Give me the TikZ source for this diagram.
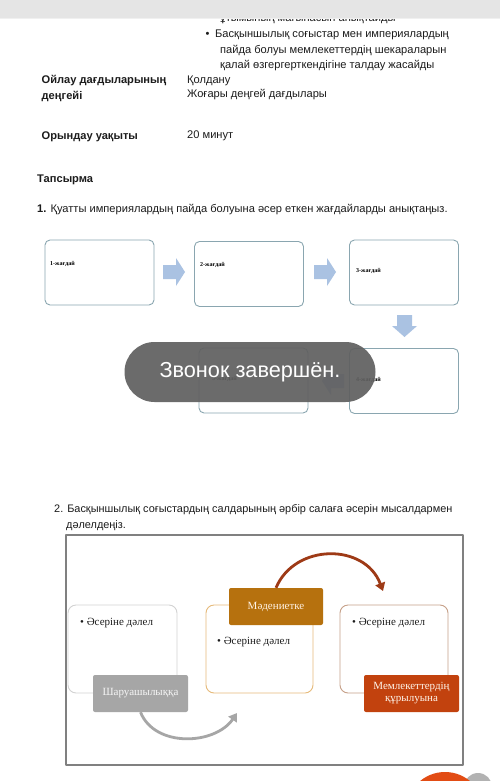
\documentclass[tikz,border=0pt]{standalone}
\usepackage{fontspec}
\setmainfont{Liberation Sans}
\newfontfamily\boxfont{Liberation Serif}
\usetikzlibrary{arrows.meta}

\definecolor{barGray}{RGB}{229,229,229}
\definecolor{inkBlack}{RGB}{28,28,28}
\definecolor{caseEdge}{RGB}{138,166,176}
\definecolor{caseArrow}{RGB}{170,194,226}
\definecolor{toastGray}{RGB}{96,96,96}
\definecolor{frameGray}{RGB}{128,128,128}
\definecolor{farmGray}{RGB}{166,166,166}
\definecolor{cultOrange}{RGB}{182,113,14}
\definecolor{cultEdge}{RGB}{230,186,122}
\definecolor{stateRed}{RGB}{194,66,14}
\definecolor{stateEdge}{RGB}{198,160,136}
\definecolor{arcBrown}{RGB}{158,58,22}
\definecolor{dotOrange}{RGB}{226,76,20}

\begin{document}
\begin{tikzpicture}[x=1pt,y=-1pt,line join=round,
  body/.style={anchor=base west,inner sep=0pt,text=inkBlack,font=\fontsize{11.1}{13}\selectfont},
  bodybold/.style={body,font=\fontsize{11.1}{13}\selectfont\bfseries},
  casebox/.style={draw=caseEdge,line width=0.9pt,rounded corners=5pt,fill=white,inner sep=0pt},
  caselabel/.style={anchor=base west,inner sep=0pt,font=\boxfont\fontsize{6}{7}\selectfont\bfseries},
  proofbox/.style={line width=0.9pt,rounded corners=8pt,fill=white,inner sep=0pt,minimum height=88pt},
  sphere/.style={inner sep=0pt,minimum height=37pt,minimum width=95pt,text=white,align=center,
    rounded corners=2pt,font=\boxfont\fontsize{11}{12}\selectfont},
  proof/.style={anchor=base west,inner sep=0pt,text=inkBlack,font=\boxfont\fontsize{11}{12}\selectfont}]

  \clip (0,0) rectangle (500,781);
  \fill[white] (0,0) rectangle (500,781);

  % ---- reference values (pixels, measured down from the top) ----
  \def\leftX{41.5}      % left column of the table
  \def\rightX{187}      % right column of the table
  \def\caseW{109}       % case box width
  \def\caseH{65}        % case box height

  % ---- upper table text ----
  \node[body] (goalA) at (220,22) {ұтымының мағынасын анықтайды};
  \fill[barGray] (0,0) rectangle (500,18);
  \fill[gray!12] (0,18) rectangle (500,19.2);

  \node[body,anchor=base] (goalDot) at (207.5,37.7) {\textbullet};
  \node[body] (goalB1) at (215,37.7) {Басқыншылық соғыстар мен империялардың};
  \node[body] (goalB2) at (220,53.3) {пайда болуы мемлекеттердің шекараларын};
  \node[body] (goalB3) at (220,68.3) {қалай өзгергерткендігіне талдау жасайды};

  \node[bodybold] (thinkA) at (\leftX,83.3) {Ойлау дағдыларының};
  \node[bodybold] (thinkB) at (\leftX,100) {деңгейі};
  \node[body] (levelA) at (\rightX,83.3) {Қолдану};
  \node[body] (levelB) at (\rightX,97.7) {Жоғары деңгей дағдылары};

  \node[bodybold] (timeLbl) at (\leftX,139.3) {Орындау уақыты};
  \node[body] (timeVal) at (\rightX,138.3) {20 минут};

  % ---- task 1 ----
  \node[bodybold] (taskLbl) at (37,182) {Тапсырма};
  \node[body] (taskOne) at (37,212.5) {\textbf{1.} Қуатты империялардың пайда болуына әсер еткен жағдайларды анықтаңыз.};

  % case boxes
  \node[casebox,minimum width=\caseW pt,minimum height=\caseH pt] (case1) at (99.5,272.5) {};
  \node[casebox,minimum width=\caseW pt,minimum height=\caseH pt] (case2) at (249,274) {};
  \node[casebox,minimum width=\caseW pt,minimum height=\caseH pt] (case3) at (404,272.5) {};
  \node[casebox,minimum width=\caseW pt,minimum height=\caseH pt] (case5) at (253.5,380.5) {};
  \node[casebox,minimum width=\caseW pt,minimum height=\caseH pt] (case4) at (404,381) {};

  \node[caselabel] (case1lbl) at (50,265) {1-жағдай};
  \node[caselabel] (case2lbl) at (200,266) {2-жағдай};
  \node[caselabel] (case3lbl) at (356,272) {3-жағдай};
  \node[caselabel] (case4lbl) at (356,381) {4-жағдай};
  \node[caselabel] (case5lbl) at (212,380) {5-жағдай};

  % block arrows between the cases
  \foreach \ax in {163,314} {
    \fill[caseArrow] (\ax,265) -- ++(13,0) -- ++(0,-7) -- ++(9,14) -- ++(-9,14) -- ++(0,-7) -- ++(-13,0) -- cycle;
  }
  \fill[caseArrow] (397,315) -- ++(15,0) -- ++(0,11) -- ++(5,0) -- ++(-12.5,11) -- ++(-12.5,-11) -- ++(5,0) -- cycle;
  \fill[caseArrow] (344,374) -- ++(-13,0) -- ++(0,-7) -- ++(-9,14) -- ++(9,14) -- ++(0,-7) -- ++(13,0) -- cycle;

  % ---- call notice ----
  \node[fill=toastGray,fill opacity=0.93,text opacity=1,rounded corners=30pt,inner sep=0pt,
    minimum width=251pt,minimum height=60pt,text=white,font=\fontsize{21.7}{24}\selectfont]
    (toast) at (250,372) {Звонок завершён.};

  % ---- task 2 ----
  \node[body,font=\fontsize{10.9}{13}\selectfont] (taskTwoA) at (54,512) {2. Басқыншылық соғыстардың салдарының әрбір салаға әсерін мысалдармен};
  \node[body,font=\fontsize{10.9}{13}\selectfont] (taskTwoB) at (66,528) {дәлелдеңіз.};

  \node[draw=frameGray,line width=1.6pt,inner sep=0pt,minimum width=397pt,minimum height=230pt] (frame) at (264.5,650) {};

  % proof boxes, each with its sphere label on top
  \node[proofbox,draw=gray!35,minimum width=109pt] (farmBox) at (122.5,649) {};
  \node[proof] (farmProof) at (80,625) {\textbullet\ Әсеріне дәлел};
  \node[sphere,fill=farmGray,text=white!92!gray] (farm) at (140.5,693.5) {Шаруашылыққа};

  \node[proofbox,draw=cultEdge,minimum width=107pt] (cultBox) at (259.5,649) {};
  \node[proof] (cultProof) at (217,644) {\textbullet\ Әсеріне дәлел};
  \node[sphere,fill=cultOrange,minimum width=94pt,text=orange!10] (cult) at (276,606.5) {Мәдениетке};

  \node[proofbox,draw=stateEdge,minimum width=108pt] (stateBox) at (394,649) {};
  \node[proof] (stateProof) at (352,625) {\textbullet\ Әсеріне дәлел};
  \node[sphere,fill=stateRed,text=orange!8] (state) at (411.5,693.5) {Мемлекеттердің\\құрылуына};

  % curved arrows
  \coordinate (farmEnd) at (237,713);
  \coordinate (cultEnd) at (383,591);
  \draw[farmGray,line width=2.8pt,-{Triangle[length=8pt,width=10pt]}]
    (farm.south) .. controls (155,748) and (215,745) .. (farmEnd);
  \draw[arcBrown,line width=2.8pt,-{Triangle[length=8pt,width=10pt]}]
    (cult.north) .. controls (295,543) and (365,543) .. (cultEnd);

  % ---- corner buttons ----
  \fill[gray!60] (478,787) circle (14);
  \fill[dotOrange] (445,811) circle (39);

\end{tikzpicture}
\end{document}
